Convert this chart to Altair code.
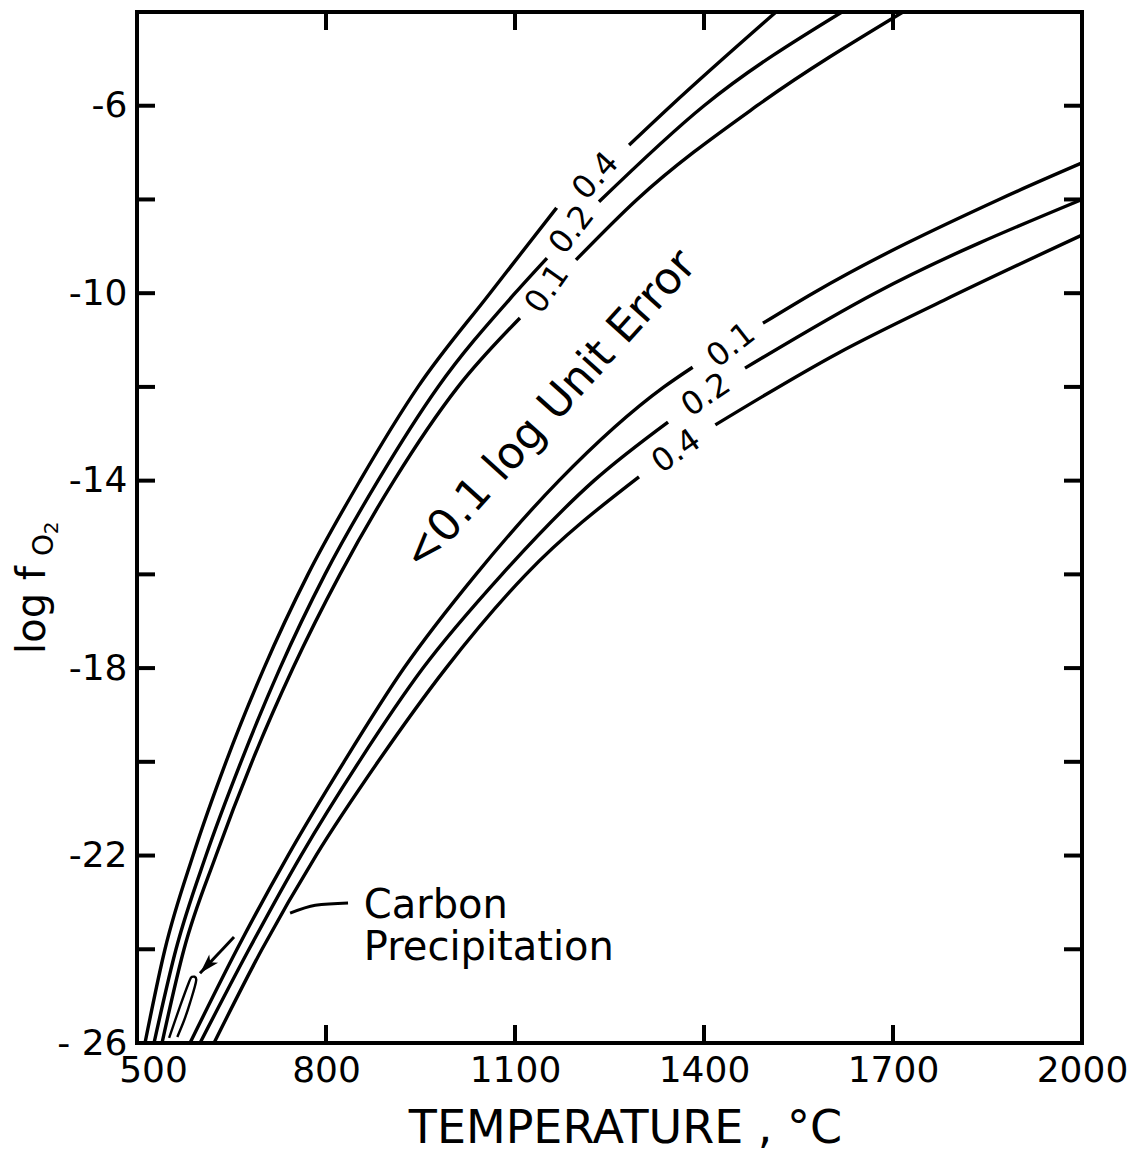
import altair as alt
import pandas as pd

# ---- curve data: temperature (°C) vs log fO2 ----
# upper family (0.4, 0.2, 0.1); "a" = below the label gap, "b" = above it
up04_T_a = [512.7, 544.4, 588.9, 641.3, 701.6, 771.4, 854.0, 946.0, 1060.3, 1166.0]
up04_y_a = [-26.0, -24.0, -22.0, -20.0, -18.0, -16.0, -14.0, -12.0, -10.0, -8.18]
up04_T_b = [1281.0, 1347.6, 1514.3]
up04_y_b = [-6.84, -6.0, -4.0]

up02_T_a = [527.0, 561.9, 609.5, 665.1, 727.0, 798.4, 882.5, 977.8, 1100.0, 1150.8]
up02_y_a = [-26.0, -24.0, -22.0, -20.0, -18.0, -16.0, -14.0, -12.0, -10.0, -9.25]
up02_T_b = [1233.3, 1400.0, 1619.0]
up02_y_b = [-8.05, -6.0, -4.0]

up01_T_a = [539.7, 574.6, 625.4, 682.5, 747.6, 822.2, 907.9, 1009.5, 1107.9]
up01_y_a = [-26.0, -24.0, -22.0, -20.0, -18.0, -16.0, -14.0, -12.0, -10.53]
up01_T_b = [1196.8, 1293.7, 1484.1, 1715.9]
up01_y_b = [-9.29, -8.0, -6.0, -4.0]

# lower family (0.1, 0.2, 0.4)
lo01_T_a = [584.1, 658.7, 739.7, 828.6, 923.8, 1038.1, 1169.8, 1336.5, 1382.0]
lo01_y_a = [-26.0, -24.0, -22.0, -20.0, -18.0, -16.0, -14.0, -12.0, -11.58]
lo01_T_b = [1493.7, 1573.0, 1868.3, 2000.0]
lo01_y_b = [-10.64, -10.0, -8.0, -7.22]

lo02_T_a = [600.0, 677.8, 760.3, 852.4, 954.0, 1079.4, 1225.4, 1342.9]
lo02_y_a = [-26.0, -24.0, -22.0, -20.0, -18.0, -16.0, -14.0, -12.75]
lo02_T_b = [1465.1, 1671.4, 2000.0]
lo02_y_b = [-11.60, -10.0, -8.0]

lo04_T_a = [622.2, 698.4, 784.1, 882.5, 990.5, 1117.5, 1296.8]
lo04_y_a = [-26.0, -24.0, -22.0, -20.0, -18.0, -16.0, -13.92]
lo04_T_b = [1418.0, 1612.7, 1781.0, 2000.0]
lo04_y_b = [-12.81, -11.28, -10.15, -8.76]

# carbon precipitation contour (small closed loop)
carb_T = [551, 568, 582, 587, 594, 584, 575, 564]
carb_y = [-25.89, -25.23, -24.72, -24.59, -24.66, -25.15, -25.51, -25.87]

# curve labels
lab_text = ["0.4", "0.2", "0.1", "0.1", "0.2", "0.4"]
lab_T = [1228, 1190, 1151, 1443, 1403, 1356]
lab_y = [-7.50, -8.65, -9.91, -11.11, -12.17, -13.37]
lab_angle = [312, 308, 305, 322, 326, 325]

# annotations
region_text = "<0.1 log Unit Error"
region_T = [1156]
region_y = [-12.51]

carbon_lines = ["Carbon", "Precipitation"]
carbon_T = [860, 860]
carbon_y = [-23.33, -24.23]
leader_T = [835, 783, 743]
leader_y = [-23.01, -23.06, -23.23]
arrow_T = [654, 600]
arrow_y = [-23.74, -24.51]

# axes
x_labels = [500, 800, 1100, 1400, 1700, 2000]
x_inner_ticks = [800, 1100, 1400, 1700]
y_labels = [-26, -22, -18, -14, -10, -6]
y_inner_ticks = [-24, -22, -20, -18, -16, -14, -12, -10, -8, -6]

W, H = 945, 1031
FONT = "DejaVu Sans"

segs = [
    ("u04a", up04_T_a, up04_y_a), ("u04b", up04_T_b, up04_y_b),
    ("u02a", up02_T_a, up02_y_a), ("u02b", up02_T_b, up02_y_b),
    ("u01a", up01_T_a, up01_y_a), ("u01b", up01_T_b, up01_y_b),
    ("l01a", lo01_T_a, lo01_y_a), ("l01b", lo01_T_b, lo01_y_b),
    ("l02a", lo02_T_a, lo02_y_a), ("l02b", lo02_T_b, lo02_y_b),
    ("l04a", lo04_T_a, lo04_y_a), ("l04b", lo04_T_b, lo04_y_b),
]
rows = []
for name, ts, ys in segs:
    for i, (t, y) in enumerate(zip(ts, ys)):
        rows.append({"seg": name, "i": i, "T": t, "y": y})
curve_df = pd.DataFrame(rows)

xscale = alt.Scale(domain=[500, 2000], nice=False, zero=False)
yscale = alt.Scale(domain=[-26, -4], nice=False, zero=False)

NB = "\u00a0"
xaxis = alt.Axis(
    values=x_labels, tickSize=0, domain=False, grid=False,
    labelFont=FONT, labelFontSize=36, labelColor="black", labelPadding=10,
    labelOverlap=False, labelBound=False, labelFlush=False,
    labelOffset={"condition": {"test": "datum.value == 500", "value": 16}, "value": 0},
    title="TEMPERATURE , °C", titleFont=FONT, titleFontSize=46,
    titleFontWeight="normal", titleColor="black",
    titleX=488, titleY=99, titleBaseline="alphabetic", titleAlign="center",
    format="d",
)
yaxis = alt.Axis(
    values=y_labels, tickSize=0, domain=False, grid=False,
    labelFont=FONT, labelFontSize=36, labelColor="black", labelPadding=10,
    labelOverlap=False, labelBound=False, labelFlush=False,
    labelExpr=f"datum.value == -26 ? '-{NB}26' : '-' + abs(datum.value)",
    title=None,
)

lines = alt.Chart(curve_df).mark_line(
    interpolate="monotone", color="black", strokeWidth=3.4, clip=True
).encode(
    x=alt.X("T:Q", scale=xscale, axis=xaxis),
    y=alt.Y("y:Q", scale=yscale, axis=yaxis),
    detail="seg:N",
    order="i:Q",
)

carb_df = pd.DataFrame({"T": carb_T, "y": carb_y, "i": range(len(carb_T))})
carb = alt.Chart(carb_df).mark_line(
    interpolate="cardinal", color="black", strokeWidth=2.4, clip=True
).encode(x=alt.X("T:Q", scale=xscale), y=alt.Y("y:Q", scale=yscale), order="i:Q")

lab_df = pd.DataFrame({"t": lab_text, "T": lab_T, "y": lab_y, "a": lab_angle})
labels = alt.Chart(lab_df).mark_text(
    font=FONT, fontSize=32, color="black", align="center", baseline="middle"
).encode(
    x=alt.X("T:Q", scale=xscale), y=alt.Y("y:Q", scale=yscale),
    text="t:N", angle=alt.Angle("a:Q", scale=None),
)

region_df = pd.DataFrame({"t": [region_text], "T": region_T, "y": region_y})
region = alt.Chart(region_df).mark_text(
    font=FONT, fontSize=44, color="black", align="center", baseline="middle",
    angle=312,
).encode(x=alt.X("T:Q", scale=xscale), y=alt.Y("y:Q", scale=yscale), text="t:N")

carbon_df = pd.DataFrame({"t": carbon_lines, "T": carbon_T, "y": carbon_y})
carbon = alt.Chart(carbon_df).mark_text(
    font=FONT, fontSize=40, color="black", align="left", baseline="alphabetic"
).encode(x=alt.X("T:Q", scale=xscale), y=alt.Y("y:Q", scale=yscale), text="t:N")

leader_df = pd.DataFrame({"T": leader_T, "y": leader_y, "i": range(len(leader_T))})
leader = alt.Chart(leader_df).mark_line(
    interpolate="monotone", color="black", strokeWidth=3
).encode(x=alt.X("T:Q", scale=xscale), y=alt.Y("y:Q", scale=yscale), order="i:Q")

arrow_df = pd.DataFrame({"T": arrow_T, "y": arrow_y, "i": [0, 1]})
arrow = alt.Chart(arrow_df).mark_line(color="black", strokeWidth=3).encode(
    x=alt.X("T:Q", scale=xscale), y=alt.Y("y:Q", scale=yscale), order="i:Q")
head_df = pd.DataFrame({"T": arrow_T[1:], "y": arrow_y[1:]})
head = alt.Chart(head_df).mark_point(
    shape="M0,0L0.6,2L0,1.5L-0.6,2Z", size=400, filled=True, color="black",
    opacity=1, angle=223,
).encode(x=alt.X("T:Q", scale=xscale), y=alt.Y("y:Q", scale=yscale))

# y-axis title "log fO2" with subscripted O2 (layout text beside the axis)
one = pd.DataFrame({"k": [0]})
def ytext(txt, px, py, fs):
    return alt.Chart(one).mark_text(
        font=FONT, color="black", angle=270, align="center", baseline="middle",
        fontSize=fs, text=txt,
    ).encode(x=alt.value(px), y=alt.value(py))
ytitle = [ytext("log  f", -104, 598, 40), ytext("O", -92, 533, 28), ytext("2", -85, 516, 20)]

TICK = 18
yt_df = pd.DataFrame({"v": y_inner_ticks})
xt_df = pd.DataFrame({"v": x_inner_ticks})
left_t = alt.Chart(yt_df).mark_rule(color="black", strokeWidth=4).encode(
    y=alt.Y("v:Q", scale=yscale), x=alt.value(0), x2=alt.value(TICK))
right_t = alt.Chart(yt_df).mark_rule(color="black", strokeWidth=4).encode(
    y=alt.Y("v:Q", scale=yscale), x=alt.value(W - TICK), x2=alt.value(W))
top_t = alt.Chart(xt_df).mark_rule(color="black", strokeWidth=4).encode(
    x=alt.X("v:Q", scale=xscale), y=alt.value(0), y2=alt.value(TICK))
bot_t = alt.Chart(xt_df).mark_rule(color="black", strokeWidth=4).encode(
    x=alt.X("v:Q", scale=xscale), y=alt.value(H - TICK), y2=alt.value(H))

chart = alt.layer(
    lines, carb, labels, region, carbon, leader, arrow, head,
    left_t, right_t, top_t, bot_t, *ytitle,
).properties(
    width=W, height=H,
    autosize=alt.AutoSizeParams(type="none"),
    padding={"left": 137, "top": 12, "right": 58, "bottom": 112},
    background="white",
).configure_view(
    stroke="black", strokeWidth=4,
)

chart.save("out.html", embed_options={"renderer": "svg", "actions": False})
